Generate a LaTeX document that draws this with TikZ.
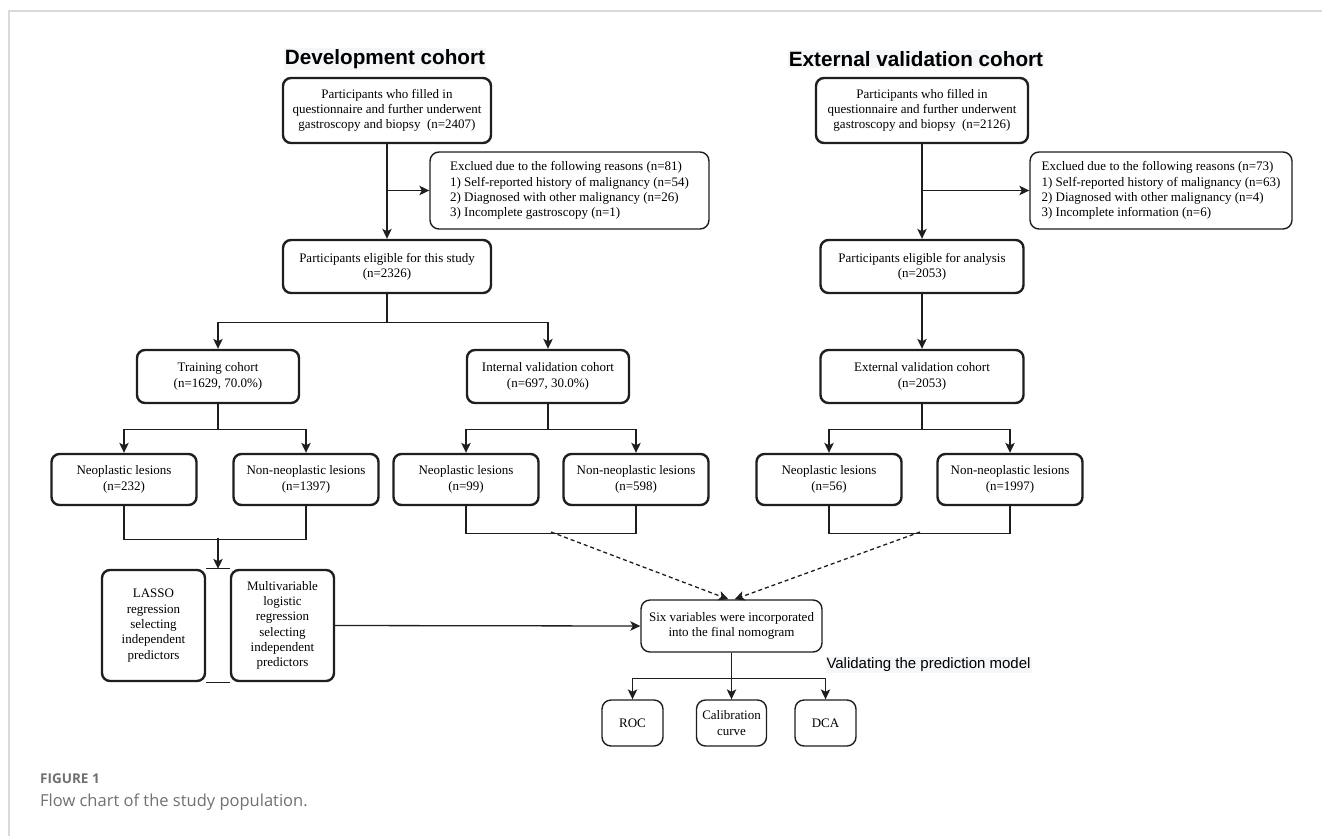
\documentclass[tikz,border=0pt]{standalone}
\usepackage{fontspec}
\setmainfont{Liberation Serif}
\newfontfamily\headfont{Liberation Sans}
\newfontfamily\capfont{Open Sans}
\usepackage{xcolor}
\usepackage{tikz}
\usetikzlibrary{positioning,arrows.meta}

\definecolor{titlebg}{HTML}{F4F6F8}
\definecolor{capgray}{HTML}{707070}
\definecolor{framegray}{HTML}{DADADA}
\definecolor{inkline}{HTML}{1E1E1E}

\begin{document}
\begin{tikzpicture}[x=1pt,y=-1pt,
    thickbox/.style={draw=inkline, line width=2.4pt, rounded corners=8pt,
        fill=white, align=center, inner sep=2pt,
        font=\fontsize{13}{15.3}\selectfont},
    thinbox/.style={draw=inkline, line width=1.4pt, rounded corners=9pt,
        fill=white, align=center, inner sep=2pt,
        font=\fontsize{13}{15.3}\selectfont},
    lesion/.style={minimum width=145pt, minimum height=51pt},
    heading/.style={fill=titlebg, inner sep=1pt,
        font=\headfont\bfseries\fontsize{20.7}{24}\selectfont},
    link/.style={draw=inkline, line width=1.3pt},
    arrowlink/.style={link, -{Stealth[length=10pt,width=9.5pt,inset=2.5pt]}},
    dashlink/.style={arrowlink, dash pattern=on 4pt off 3pt}]

    \useasboundingbox (0,0) rectangle (1322,836);
    \draw[framegray, line width=1.5pt] (1322,11) -- (9,11) -- (9,836);

    % headings
    \node[heading] (devtitle) at (385,59) {Development cohort};
    \node[heading] (exttitle) at (916,59) {External validation cohort};

    % development cohort
    \node[thickbox,
        minimum width=208pt,
        minimum height=65pt]
        (devall) at (387,110.5)
        {Participants who filled in\\questionnaire and further underwent\\gastroscopy and biopsy~ (n=2407)};

    \node[thinbox, align=left,
        minimum width=279pt,
        minimum height=77pt]
        (devexcl) at (569.5,190.5)
        {Exclued due to the following reasons (n=81)\\1) Self-reported history of malignancy (n=54)\\2) Diagnosed with other malignancy (n=26)\\3) Incomplete gastroscopy (n=1)};

    \node[thickbox,
        minimum width=208pt,
        minimum height=53pt]
        (develig) at (387,266.5)
        {Participants eligible for this study\\(n=2326)};

    \node[thickbox,
        minimum width=162pt,
        minimum height=53pt]
        (train) at (218,376.5)
        {Training cohort\\(n=1629, 70.0\%)};

    \node[thickbox,
        minimum width=162pt,
        minimum height=53pt]
        (intval) at (548,376.5)
        {Internal validation cohort\\(n=697, 30.0\%)};

    \node[thickbox, lesion] (trainneo) at (124,479.5) {Neoplastic lesions\\(n=232)};
    \node[thickbox, lesion] (trainnon) at (306,479.5) {Non-neoplastic lesions\\(n=1397)};
    \node[thickbox, lesion] (intneo) at (466,479.5) {Neoplastic lesions\\(n=99)};
    \node[thickbox, lesion] (intnon) at (636,479.5) {Non-neoplastic lesions\\(n=598)};

    \node[thickbox,
        minimum width=103pt,
        minimum height=111pt]
        (lasso) at (153.5,625.5)
        {LASSO\\regression\\selecting\\independent\\predictors};

    \node[thickbox,
        minimum width=103pt,
        minimum height=111pt]
        (multi) at (282.5,625.5)
        {Multivariable\\logistic\\regression\\selecting\\independent\\predictors};

    % external validation cohort
    \node[thickbox,
        minimum width=212pt,
        minimum height=65pt]
        (extall) at (922,110.5)
        {Participants who filled in\\questionnaire and further underwent\\gastroscopy and biopsy~ (n=2126)};

    \node[thinbox, align=left,
        minimum width=262pt,
        minimum height=77pt]
        (extexcl) at (1161,190.5)
        {Exclued due to the following reasons (n=73)\\1) Self-reported history of malignancy (n=63)\\2) Diagnosed with other malignancy (n=4)\\3) Incomplete information (n=6)};

    \node[thickbox,
        minimum width=203pt,
        minimum height=53pt]
        (extelig) at (922,266.5)
        {Participants eligible for analysis\\(n=2053)};

    \node[thickbox,
        minimum width=203pt,
        minimum height=53pt]
        (extval) at (922,376.5)
        {External validation cohort\\(n=2053)};

    \node[thickbox, lesion] (extneo) at (829,479.5) {Neoplastic lesions\\(n=56)};
    \node[thickbox, lesion] (extnon) at (1010,479.5) {Non-neoplastic lesions\\(n=1997)};

    % model and validation
    \node[thinbox,
        minimum width=181pt,
        minimum height=52pt]
        (nomo) at (731.5,626)
        {Six variables were incorporated\\into the final nomogram};

    \node[thinbox, minimum width=61pt, minimum height=46pt] (roc) at (632.5,723) {ROC};
    \node[thinbox, minimum width=70pt, minimum height=46pt] (calib) at (731.5,723) {Calibration\\curve};
    \node[thinbox, minimum width=61pt, minimum height=46pt] (dca) at (825.5,723) {DCA};

    \node[fill=titlebg, inner sep=1pt,
        font=\headfont\fontsize{15}{18}\selectfont]
        (validlabel) at (928.5,665) {Validating the prediction model};

    % caption
    \node[anchor=west, text=capgray, inner sep=0pt,
        font=\capfont\bfseries\fontsize{13.5}{16}\selectfont]
        (figlabel) at (40,779) {FIGURE 1};
    \node[anchor=west, text=capgray, inner sep=0pt,
        font=\capfont\fontsize{16.5}{20}\selectfont]
        (figcaption) at (40,802) {Flow chart of the study population.};

    % connectors, development
    \draw[arrowlink] (devall.south) -- (develig.north);
    \coordinate (devbranch) at (devall.south |- devexcl.west);
    \draw[arrowlink] (devbranch) -- (devexcl.west);

    \draw[link] (develig.south) -- ++(0,28) coordinate (devsplit);
    \draw[arrowlink] (devsplit) -| (train.north);
    \draw[arrowlink] (devsplit) -| (intval.north);

    \draw[link] (train.south) -- ++(0,25) coordinate (trainsplit);
    \draw[arrowlink] (trainsplit) -| (trainneo.north);
    \draw[arrowlink] (trainsplit) -| (trainnon.north);

    \draw[link] (intval.south) -- ++(0,25) coordinate (intsplit);
    \draw[arrowlink] (intsplit) -| (intneo.north);
    \draw[arrowlink] (intsplit) -| (intnon.north);

    \draw[link] (trainneo.south) -- ++(0,33) -| (trainnon.south);
    \coordinate (devjoin) at (218,538);
    \draw[link] (lasso.north east) -- (multi.north west);
    \draw[link] (lasso.south east) -- (multi.south west);
    \draw[arrowlink] (devjoin) -- (devjoin |- lasso.north);

    \draw[link] (intneo.south) -- ++(0,27) -| (intnon.south);
    \coordinate (intjoin) at (551,532);
    \draw[dashlink] (intjoin) -- ([xshift=-3pt]nomo.north);

    % connectors, external
    \draw[arrowlink] (extall.south) -- (extelig.north);
    \coordinate (extbranch) at (extall.south |- extexcl.west);
    \draw[arrowlink] (extbranch) -- (extexcl.west);
    \draw[arrowlink] (extelig.south) -- (extval.north);

    \draw[link] (extval.south) -- ++(0,25) coordinate (extsplit);
    \draw[arrowlink] (extsplit) -| (extneo.north);
    \draw[arrowlink] (extsplit) -| (extnon.north);

    \draw[link] (extneo.south) -- ++(0,27) -| (extnon.south);
    \coordinate (extjoin) at (920,532);
    \draw[dashlink] (extjoin) -- ([xshift=3pt]nomo.north);

    % connectors, model
    \draw[arrowlink] (multi.east) -- (nomo.west);
    \draw[link] (nomo.south) -- ++(0,26) coordinate (nomosplit);
    \draw[arrowlink] (nomosplit) -| (roc.north);
    \draw[arrowlink] (nomo.south) -- (calib.north);
    \draw[arrowlink] (nomosplit) -| (dca.north);

\end{tikzpicture}
\end{document}
